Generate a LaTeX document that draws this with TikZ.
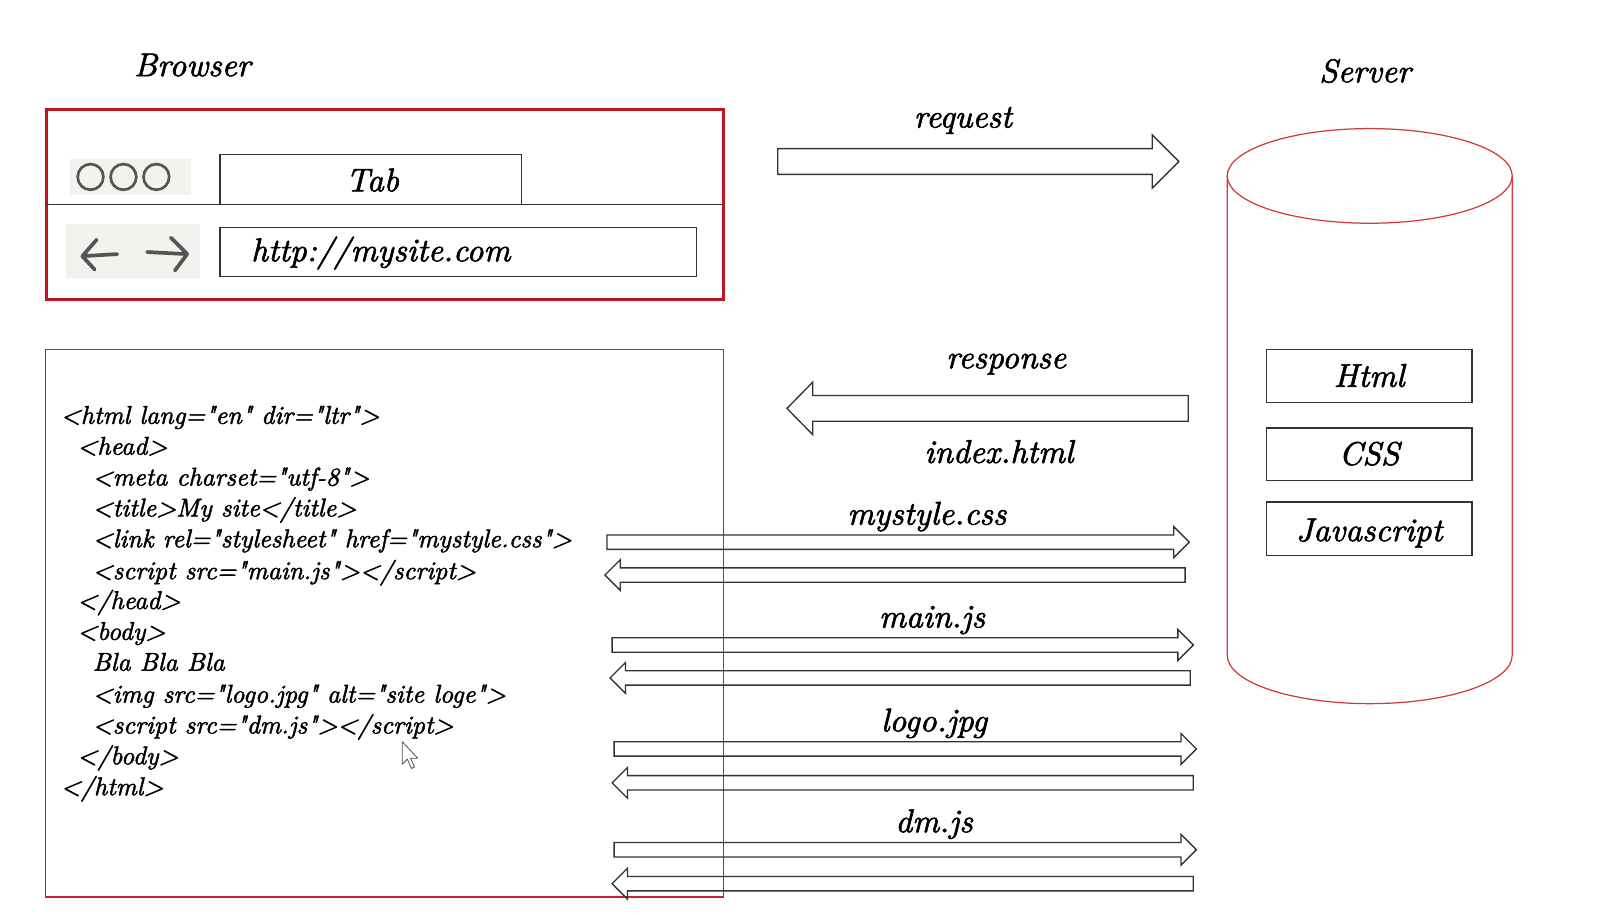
\documentclass[tikz,border=0pt]{standalone}
\usepackage{fontspec}
\newfontfamily\heavyit{lmroman10-italic}[Extension=.otf, FakeBold=1.8]
\definecolor{bred}{HTML}{C0141C}
\definecolor{cred}{HTML}{C8202E}
\definecolor{cylred}{HTML}{D23A3A}
\definecolor{dk}{HTML}{333333}
\definecolor{icon}{HTML}{555555}
\definecolor{iconbg}{HTML}{F2F2EF}
\newcommand\blockR[6]{\draw[blk] (#1,#3-#4) -- (#2-#6,#3-#4) -- (#2-#6,#3-#5) -- (#2,#3) -- (#2-#6,#3+#5) -- (#2-#6,#3+#4) -- (#1,#3+#4) -- cycle;}
\newcommand\blockL[6]{\draw[blk] (#2,#3-#4) -- (#1+#6,#3-#4) -- (#1+#6,#3-#5) -- (#1,#3) -- (#1+#6,#3+#5) -- (#1+#6,#3+#4) -- (#2,#3+#4) -- cycle;}
\begin{document}
\begin{tikzpicture}[x=1pt,y=-1pt,
  lbl/.style={font=\heavyit\fontsize{32}{38}\selectfont, anchor=base, inner sep=0pt},
  codeline/.style={font=\heavyit\fontsize{25}{30}\selectfont, anchor=base west, inner sep=0pt},
  blk/.style={draw=dk, line width=1.3pt},
  kbox/.style={draw=dk, line width=1.4pt, inner sep=0pt},
  ]
\useasboundingbox (0,0) rectangle (1567,888.5);

% titles
\node[lbl] (browserlbl) at (187,74) {Browser};
\node[lbl] (serverlbl) at (1327,80) {Server};

% browser window
\node[draw=bred, line width=3pt, minimum width=658pt, minimum height=185pt, inner sep=0pt] (browser) at (374,198.5) {};
\draw[dk, line width=1.3pt] (45,199) -- (703,199);
\fill[iconbg] (68,155) rectangle (186,190);
\foreach \cx in {88,120,152}{\draw[icon, line width=2.6pt] (\cx,172) circle (12.5);}
\fill[iconbg] (64,218) rectangle (194,270);
\draw[icon, line width=3.6pt, line cap=round, line join=round] (114,247) -- (80,249) (94,233) -- (80,249) -- (92,262);
\draw[icon, line width=3.6pt, line cap=round, line join=round] (143,245) -- (182,247) (166,231) -- (182,247) -- (170,263);
\draw[kbox] (214,199) -- (214,150) -- (507,150) -- (507,199);
\node[lbl] (tab) at (362,186) {Tab};
\node[kbox, minimum width=463pt, minimum height=48pt] (url) at (445.5,245) {};
\node[lbl, anchor=base west] (urltext) at (244,254) {http://mysite.com};

% code box
\node[draw=cred, line width=1.3pt, minimum width=659pt, minimum height=532pt, inner sep=0pt] (code) at (373.5,606) {};
\node[codeline] at (59,412) {<html lang="en" dir="ltr">};
\node[codeline] at (75,442) {<head>};
\node[codeline] at (90,472) {<meta charset="utf-8">};
\node[codeline] at (90,502) {<title>My site</title>};
\node[codeline] at (90,532) {<link rel="stylesheet" href="mystyle.css">};
\node[codeline] at (90,563) {<script src="main.js"></script>};
\node[codeline] at (75,592) {</head>};
\node[codeline] at (75,622) {<body>};
\node[codeline] at (90,652) {Bla Bla Bla};
\node[codeline] at (90,683) {<img src="logo.jpg" alt="site loge">};
\node[codeline] at (90,713) {<script src="dm.js"></script>};
\node[codeline] at (75,743) {</body>};
\node[codeline] at (59,773) {</html>};
% cursor
\draw[fill=white, draw=icon, line width=0.8pt, line join=round] (391,721) -- (391,743) -- (396,738) -- (400,747) -- (403,745.5) -- (399,737) -- (406,737) -- cycle;

% server cylinder
\draw[cylred, line width=1.2pt] (1331.5,171) ellipse [x radius=138.5, y radius=46];
\draw[cylred, line width=1.2pt] (1193,171) -- (1193,637) arc[start angle=180, end angle=0, x radius=138.5, y radius=47] -- (1470,171);
\node[kbox, minimum width=200pt, minimum height=51pt] (html) at (1331,365.5) {};
\node[lbl] at (1331,376) {Html};
\node[kbox, minimum width=200pt, minimum height=51pt] (css) at (1331,441.5) {};
\node[lbl] at (1331,452) {CSS};
\node[kbox, minimum width=200pt, minimum height=52pt] (js) at (1331,514) {};
\node[lbl] at (1331,526) {Javascript};

% request / response
\node[lbl] (req) at (936,124) {request};
\blockR{756}{1146}{157}{12.5}{26}{26}
\node[lbl] (resp) at (978,358) {response};
\blockL{765}{1155}{397}{12.5}{25.5}{25}
\node[lbl] (idx) at (971,450) {index.html};

% resources
\node[lbl] (css1) at (901,510) {mystyle.css};
\blockR{590}{1156}{527}{7}{15}{15}
\blockL{588}{1152}{559}{7}{15}{15}
\node[lbl] (mainjs) at (906,610) {main.js};
\blockR{595}{1160}{627}{7}{15}{15}
\blockL{593}{1157}{659}{7}{15}{15}
\node[lbl] (logo) at (908,711) {logo.jpg};
\blockR{597}{1163}{728}{7}{15}{15}
\blockL{595}{1160}{761}{7}{15}{15}
\node[lbl] (dmjs) at (908,809) {dm.js};
\blockR{597}{1163}{826}{7}{15}{15}
\blockL{595}{1160}{859}{7}{15}{15}
\end{tikzpicture}
\end{document}
